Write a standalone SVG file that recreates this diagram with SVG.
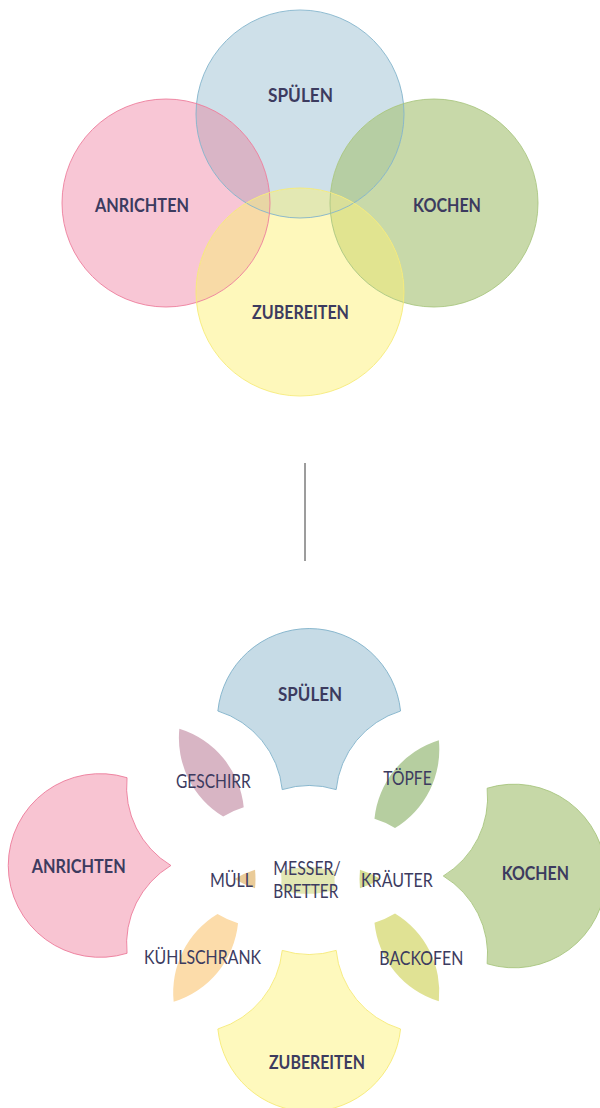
<svg xmlns="http://www.w3.org/2000/svg" xmlns:xlink="http://www.w3.org/1999/xlink" width="600" height="1108" viewBox="0 0 600 1108">
  <style>
    .lbl { font-family: Lato, "Open Sans", "Liberation Sans", sans-serif; fill: #3c3b5f; }
    .main { font-size: 19px; font-weight: 700; }
    .sub { font-size: 19.5px; font-weight: 400; }
    .edge { fill: none; stroke-width: 1; vector-effect: non-scaling-stroke; }
    .s-line { stroke: #7db0c9; }
    .a-line { stroke: #ec7898; }
    .k-line { stroke: #a7c47d; }
    .z-line { stroke: #f6ea72; }
    .ring { fill: none; stroke-width: 1; stroke-opacity: 0.85; }
  </style>
  <defs>
    <!-- Venn regions, built from four circles of r=104:
         S(300,114)  A(166,203)  K(434,203)  Z(300,292) -->
    <path id="rS" d="M196.54,103.58 A104,104 0 0 1 403.46,103.58 A104,104 0 0 0 330.54,192.58 A104,104 0 0 0 269.46,192.58 A104,104 0 0 0 196.54,103.58 Z"/>
    <path id="rA" d="M196.54,302.42 A104,104 0 1 1 196.54,103.58 A104,104 0 0 0 246.2,203 A104,104 0 0 0 196.54,302.42 Z"/>
    <path id="rK" d="M403.46,302.42 A104,104 0 1 0 403.46,103.58 A104,104 0 0 1 353.8,203 A104,104 0 0 1 403.46,302.42 Z"/>
    <path id="rZ" d="M196.54,302.42 A104,104 0 0 0 403.46,302.42 A104,104 0 0 1 330.54,213.42 A104,104 0 0 1 269.46,213.42 A104,104 0 0 1 196.54,302.42 Z"/>
    <path id="rSA" d="M196.54,103.58 A104,104 0 0 1 269.46,192.58 A104,104 0 0 0 246.2,203 A104,104 0 0 1 196.54,103.58 Z"/>
    <path id="rSK" d="M403.46,103.58 A104,104 0 0 0 330.54,192.58 A104,104 0 0 1 353.8,203 A104,104 0 0 0 403.46,103.58 Z"/>
    <path id="rAZ" d="M196.54,302.42 A104,104 0 0 0 269.46,213.42 A104,104 0 0 1 246.2,203 A104,104 0 0 0 196.54,302.42 Z"/>
    <path id="rKZ" d="M403.46,302.42 A104,104 0 0 1 330.54,213.42 A104,104 0 0 0 353.8,203 A104,104 0 0 1 403.46,302.42 Z"/>
    <path id="rSZ" d="M269.46,192.58 A104,104 0 0 1 330.54,192.58 A104,104 0 0 0 330.54,213.42 A104,104 0 0 1 269.46,213.42 A104,104 0 0 0 269.46,192.58 Z"/>
    <path id="rSZA" d="M246.2,203 A104,104 0 0 1 269.46,192.58 A104,104 0 0 1 269.46,213.42 A104,104 0 0 1 246.2,203 Z"/>
    <path id="rSZK" d="M353.8,203 A104,104 0 0 0 330.54,192.58 A104,104 0 0 0 330.54,213.42 A104,104 0 0 0 353.8,203 Z"/>
  </defs>

  <!-- Overlapping Venn diagram -->
  <g id="venn">
    <g id="venn-regions">
      <use xlink:href="#rS" fill="#cee0e9"/>
      <use xlink:href="#rA" fill="#f8c6d5"/>
      <use xlink:href="#rK" fill="#c8d9a9"/>
      <use xlink:href="#rZ" fill="#fef8bb"/>
      <use xlink:href="#rSA" fill="#d9b5c6"/>
      <use xlink:href="#rSK" fill="#b6cea3"/>
      <use xlink:href="#rAZ" fill="#f8daa6"/>
      <use xlink:href="#rKZ" fill="#e1e490"/>
      <use xlink:href="#rSZ" fill="#e3e8b3"/>
      <use xlink:href="#rSZA" fill="#e8d5a4"/>
      <use xlink:href="#rSZK" fill="#d9df99"/>
    </g>
    <g id="venn-outlines">
      <circle class="ring s-line" cx="300" cy="114" r="104"/>
      <circle class="ring a-line" cx="166" cy="203" r="104"/>
      <circle class="ring k-line" cx="434" cy="203" r="104"/>
      <circle class="ring z-line" cx="300" cy="292" r="104"/>
    </g>
    <g id="venn-spuelen"><text class="lbl main" x="268" y="102" textLength="65" lengthAdjust="spacingAndGlyphs">SPÜLEN</text></g>
    <g id="venn-anrichten"><text class="lbl main" x="95" y="212" textLength="94" lengthAdjust="spacingAndGlyphs">ANRICHTEN</text></g>
    <g id="venn-kochen"><text class="lbl main" x="413" y="212" textLength="68" lengthAdjust="spacingAndGlyphs">KOCHEN</text></g>
    <g id="venn-zubereiten"><text class="lbl main" x="252" y="319" textLength="97" lengthAdjust="spacingAndGlyphs">ZUBEREITEN</text></g>
  </g>

  <g id="connectors">
    <line x1="305" y1="463" x2="305" y2="561" stroke="#3a3a3a" stroke-width="1"/>
  </g>

  <!-- Exploded view: same regions, scaled 0.883 and pushed apart -->
  <g id="exploded">
    <g id="spuelen">
      <g transform="translate(309.2,798.8) scale(0.883) translate(-300,-203)">
        <use xlink:href="#rS" fill="#c6dbe6"/>
        <use xlink:href="#rS" class="edge s-line"/>
      </g>
      <text class="lbl main" x="278" y="701" textLength="64" lengthAdjust="spacingAndGlyphs">SPÜLEN</text>
    </g>
    <g id="zubereiten">
      <g transform="translate(309.2,941.2) scale(0.883) translate(-300,-203)">
        <use xlink:href="#rZ" fill="#fef9bd"/>
        <use xlink:href="#rZ" class="edge z-line"/>
      </g>
      <text class="lbl main" x="269" y="1069" textLength="96" lengthAdjust="spacingAndGlyphs">ZUBEREITEN</text>
    </g>
    <g id="anrichten">
      <g transform="translate(218.4,865.5) scale(0.883) translate(-300,-203)">
        <use xlink:href="#rA" fill="#f8c4d2"/>
        <use xlink:href="#rA" class="edge a-line"/>
      </g>
      <text class="lbl main" x="31.7" y="873" textLength="94" lengthAdjust="spacingAndGlyphs">ANRICHTEN</text>
    </g>
    <g id="kochen">
      <g transform="translate(395.8,876) scale(0.883) translate(-300,-203)">
        <use xlink:href="#rK" fill="#c6d8a7"/>
        <use xlink:href="#rK" class="edge k-line"/>
      </g>
      <text class="lbl main" x="501.7" y="880" textLength="67.3" lengthAdjust="spacingAndGlyphs">KOCHEN</text>
    </g>
    <g id="geschirr">
      <use xlink:href="#rSA" fill="#d8b5c4" transform="translate(270.7,816.5) scale(0.883) translate(-300,-203)"/>
      <text class="lbl sub" x="176" y="788" textLength="74.7" lengthAdjust="spacingAndGlyphs">GESCHIRR</text>
    </g>
    <g id="toepfe">
      <use xlink:href="#rSK" fill="#b6cea0" transform="translate(347.5,828) scale(0.883) translate(-300,-203)"/>
      <text class="lbl sub" x="383.3" y="785" textLength="48.4" lengthAdjust="spacingAndGlyphs">TÖPFE</text>
    </g>
    <g id="kuehlschrank">
      <use xlink:href="#rAZ" fill="#fcdcaa" transform="translate(265,914) scale(0.883) translate(-300,-203)"/>
      <text class="lbl sub" x="144" y="964.3" textLength="117" lengthAdjust="spacingAndGlyphs">KÜHLSCHRANK</text>
    </g>
    <g id="backofen">
      <use xlink:href="#rKZ" fill="#e0e294" transform="translate(347.5,913.5) scale(0.883) translate(-300,-203)"/>
      <text class="lbl sub" x="379.3" y="965" textLength="84" lengthAdjust="spacingAndGlyphs">BACKOFEN</text>
    </g>
    <g id="messer-bretter">
      <use xlink:href="#rSZ" fill="#e2e7b3" transform="translate(308,880.5) scale(0.883) translate(-300,-203)"/>
      <text class="lbl sub" x="273.3" y="875" textLength="67.4" lengthAdjust="spacingAndGlyphs">MESSER/</text>
      <text class="lbl sub" x="273.3" y="897.7" textLength="65" lengthAdjust="spacingAndGlyphs">BRETTER</text>
    </g>
    <g id="muell">
      <use xlink:href="#rSZA" fill="#eacb98" transform="translate(282,879) scale(0.883) translate(-300,-203)"/>
      <text class="lbl sub" x="210" y="886.7" textLength="43" lengthAdjust="spacingAndGlyphs">MÜLL</text>
    </g>
    <g id="kraeuter">
      <use xlink:href="#rSZK" fill="#d6dd94" transform="translate(333,879) scale(0.883) translate(-300,-203)"/>
      <text class="lbl sub" x="361" y="887.3" textLength="71.7" lengthAdjust="spacingAndGlyphs">KRÄUTER</text>
    </g>
  </g>
</svg>
